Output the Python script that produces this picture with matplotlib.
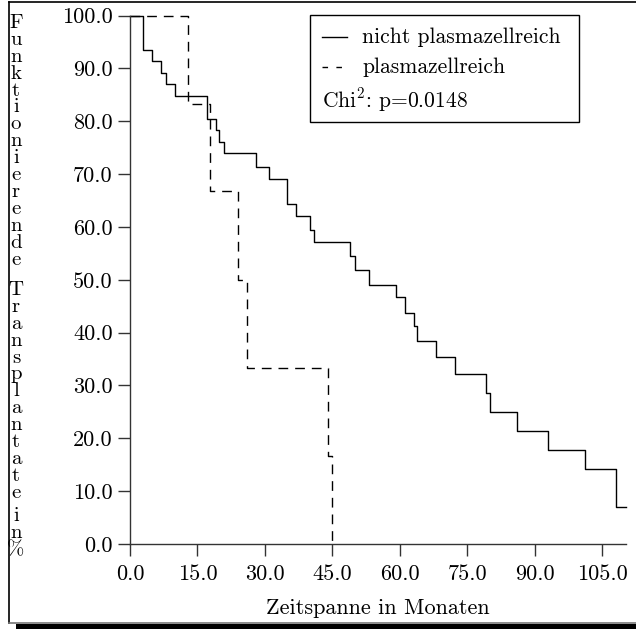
import matplotlib
matplotlib.use("Agg")
import matplotlib.pyplot as plt
from matplotlib.lines import Line2D
from matplotlib.patches import Rectangle
from matplotlib.ticker import FixedLocator, FormatStrFormatter
from matplotlib.font_manager import FontProperties

plt.rcParams["font.family"] = "serif"
plt.rcParams["font.serif"] = ["cmr10"]
plt.rcParams["mathtext.fontset"] = "cm"
plt.rcParams["axes.unicode_minus"] = False
plt.rcParams["axes.formatter.use_mathtext"] = False

# Kaplan-Meier estimates (months, % functioning grafts)
months_normal = [0, 2.8, 5.0, 7.0, 7.9, 9.9, 17.1, 19.1, 19.9, 21.0, 28.0, 31.0,
                 35.0, 37.0, 40.0, 41.0, 49.0, 50.0, 53.1, 59.1, 61.1, 63.1,
                 63.9, 68.1, 72.2, 79.1, 80.0, 86.1, 93.0, 101.1, 108.1, 110.2]
surv_normal = [100.0, 93.5, 91.3, 89.1, 87.0, 84.8, 80.4, 78.3, 76.1, 73.9, 71.3,
               69.1, 64.4, 62.1, 59.5, 57.1, 54.5, 51.8, 49.1, 46.7, 43.8, 41.2,
               38.4, 35.3, 32.2, 28.6, 25.0, 21.4, 17.8, 14.2, 7.0, 7.0]

months_plasma = [0, 13.0, 17.8, 24.0, 26.0, 44.0, 45.0]
surv_plasma = [100.0, 83.3, 66.7, 50.0, 33.3, 16.7, 0.0]

label_normal = "nicht plasmazellreich"
label_plasma = "plasmazellreich"
stat_text = r"Chi$^2$: p=0.0148"
x_ticks = [0, 15, 30, 45, 60, 75, 90, 105]
y_ticks = [0, 10, 20, 30, 40, 50, 60, 70, 80, 90, 100]
x_label = "Zeitspanne in Monaten"
y_label_words = ["Funktionierende", "Transplantate", "in%"]

FS = 16
FS_LEG = 15.5
FS_YL = 15
W, H = 636, 629
fig = plt.figure(figsize=(W / 100, H / 100), dpi=100)
fig.patch.set_facecolor("white")


def fx(px):
    return px / W


def fy(py):
    return 1 - py / H


ax = fig.add_axes([fx(130), fy(544), fx(626) - fx(130), fy(15.5) - fy(544)])
ax.set_xlim(0, 110.3)
ax.set_ylim(0, 100)

ax.plot(months_normal, surv_normal, drawstyle="steps-post", color="black",
        lw=1.0, clip_on=False)
ax.plot(months_plasma, surv_plasma, drawstyle="steps-post", color="black",
        lw=1.0, ls=(0, (7, 5)), clip_on=False)

for s in ("top", "right"):
    ax.spines[s].set_visible(False)
for s in ("left", "bottom"):
    ax.spines[s].set_linewidth(1.0)
    ax.spines[s].set_color("#333333")

ax.xaxis.set_major_locator(FixedLocator(x_ticks))
ax.yaxis.set_major_locator(FixedLocator(y_ticks))
ax.xaxis.set_major_formatter(FormatStrFormatter("%.1f"))
ax.yaxis.set_major_formatter(FormatStrFormatter("%.1f"))
ax.tick_params(direction="out", length=8.5, width=1.0, color="#333333",
               labelsize=FS)
ax.tick_params(axis="x", pad=6)
ax.tick_params(axis="y", pad=4)

ax.set_xlabel(x_label, fontsize=FS, labelpad=11)

# vertical stacked axis title: one letter per line, one block per word
renderer = fig.canvas.get_renderer()
prop = FontProperties(family="serif", size=FS_YL)
_, lp_h, lp_d = renderer.get_text_width_height_descent("lp", prop, ismath=False)
advance = 16.9
line_sp = (advance - lp_d) / (lp_h - lp_d)
first_baselines = [28, 295, 521]
for word, base in zip(y_label_words, first_baselines):
    last_base = base + (len(word) - 1) * advance
    fig.text(fx(16), fy(last_base), "\n".join(word), ha="center", va="baseline",
             multialignment="center", fontsize=FS_YL, linespacing=line_sp)

# legend box
fig.add_artist(Rectangle((fx(310), fy(122)), fx(579) - fx(310), fy(15) - fy(122),
                         transform=fig.transFigure, fill=False,
                         edgecolor="black", lw=1.0))
fig.add_artist(Line2D([fx(322), fx(347)], [fy(37), fy(37)],
                      transform=fig.transFigure, color="black", lw=1.0))
fig.add_artist(Line2D([fx(322), fx(346)], [fy(67), fy(67)],
                      transform=fig.transFigure, color="black", lw=1.0,
                      ls=(0, (4, 6))))
fig.text(fx(362), fy(37), label_normal, ha="left", va="center", fontsize=FS_LEG)
fig.text(fx(362), fy(67), label_plasma, ha="left", va="center", fontsize=FS_LEG)
fig.text(fx(322), fy(100), stat_text, ha="left", va="center", fontsize=FS_LEG)

# outer frame with shadow
fig.add_artist(Line2D([fx(9), fx(9)], [fy(2), fy(623)],
                      transform=fig.transFigure, color="black", lw=1.2))
fig.add_artist(Line2D([fx(9), fx(636)], [fy(2), fy(2)],
                      transform=fig.transFigure, color="black", lw=1.2))
fig.add_artist(Line2D([fx(9), fx(636)], [fy(623), fy(623)],
                      transform=fig.transFigure, color="#777777", lw=1.2))
fig.add_artist(Rectangle((fx(16), 0), 1 - fx(16), fy(624),
                         transform=fig.transFigure, color="black", lw=0))

fig.savefig("out.png", dpi=100, facecolor="white")
